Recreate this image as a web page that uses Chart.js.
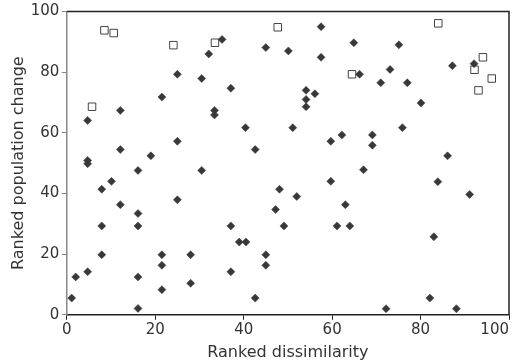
<!DOCTYPE html>
<html>
<head>
<meta charset="utf-8">
<script src="https://cdn.jsdelivr.net/npm/chart.js@4/dist/chart.umd.min.js"></script>
<style>
html,body{margin:0;padding:0;background:#fff;}
canvas{display:block;}
</style>
</head>
<body>
<canvas id="c" width="521" height="362"></canvas>
<script>
// Diamonds (filled): ranked dissimilarity
const diamondX = [1.1,2.0,4.7,4.7,4.7,4.7,7.9,7.9,7.9,10.1,12.1,12.1,12.1,16.1,16.1,16.1,16.1,16.1,19.0,21.5,21.5,21.5,21.5,25.0,25.0,25.0,28.0,28.0,30.5,30.5,32.1,33.4,33.4,35.1,37.1,37.1,37.1,39.0,40.5,40.4,42.6,42.6,45.0,45.0,45.0,47.2,48.1,49.1,50.1,51.1,52.0,54.1,54.1,54.1,56.1,57.5,57.5,59.7,59.7,61.1,62.2,63.0,64.0,64.9,66.2,67.1,69.1,69.1,71.0,72.2,73.1,75.1,75.9,77.0,80.1,82.1,83.0,83.9,86.1,87.2,88.1,91.1,92.1];
// Diamonds: ranked population change
const diamondY = [5.5,12.5,14.2,64.1,50.9,49.8,41.4,29.3,19.8,44.0,67.4,54.5,36.3,47.6,33.4,29.3,12.5,2.1,52.4,71.8,19.8,16.3,8.3,79.3,57.2,37.9,19.8,10.4,77.9,47.6,86.0,67.4,65.9,90.8,74.7,29.3,14.2,24.0,24.0,61.7,54.5,5.5,88.1,19.8,16.3,34.7,41.4,29.3,87.0,61.7,39.0,74.0,71.0,68.6,72.9,95.0,84.9,57.2,44.0,29.3,59.3,36.3,29.3,89.7,79.3,47.8,59.3,55.9,76.5,2.0,80.9,89.0,61.7,76.5,69.8,5.5,25.7,43.9,52.4,82.1,2.0,39.7,82.8];
// Open squares
const squareX = [5.7,8.5,10.6,24.1,33.5,47.7,64.5,84.0,92.2,93.1,94.1,96.1];
const squareY = [68.6,93.8,92.9,88.9,89.7,94.8,79.3,96.1,80.8,74.0,84.9,77.9];
const tickValues = [0,20,40,60,80,100];

const toPts = (xs, ys) => xs.map((x, i) => ({x: x, y: ys[i]}));

const frame = {
  id: 'frame',
  afterDraw(chart) {
    const a = chart.chartArea, ctx = chart.ctx;
    ctx.save();
    ctx.strokeStyle = '#222';
    ctx.lineWidth = 1.5;
    ctx.beginPath();
    ctx.moveTo(a.left, a.top);
    ctx.lineTo(a.right, a.top);
    ctx.lineTo(a.right, a.bottom);
    ctx.stroke();
    ctx.restore();
  }
};

const tickFont = {family: '"DejaVu Sans", Verdana, sans-serif', size: 15};
const titleFont = {family: '"DejaVu Sans", Verdana, sans-serif', size: 16};

new Chart(document.getElementById('c'), {
  type: 'scatter',
  data: {
    datasets: [
      {
        data: toPts(squareX, squareY),
        pointStyle: 'rect',
        pointRadius: 5.3,
        pointBackgroundColor: '#fff',
        pointBorderColor: '#444',
        pointBorderWidth: 1,
        order: 2
      },
      {
        data: toPts(diamondX, diamondY),
        pointStyle: 'rectRot',
        pointRadius: 4,
        pointBackgroundColor: '#383838',
        pointBorderColor: '#383838',
        pointBorderWidth: 0.5,
        order: 1
      }
    ]
  },
  options: {
    responsive: false,
    animation: false,
    events: [],
    layout: {padding: {top: 8, right: 12, left: 2, bottom: 0}},
    plugins: {legend: {display: false}, tooltip: {enabled: false}},
    scales: {
      x: {
        type: 'linear', min: 0, max: 100,
        afterBuildTicks: s => { s.ticks = tickValues.map(v => ({value: v})); },
        afterFit: s => { s.paddingRight = 0; },
        grid: {drawOnChartArea: false, drawTicks: true, tickLength: 5, color: '#222'},
        border: {color: '#222', width: 1.5},
        ticks: {
          color: '#333', font: tickFont, padding: 1, maxRotation: 0,
          callback: v => v === 100 ? '100\u2007\u2007\u2007' : String(v)
        },
        title: {display: true, text: 'Ranked dissimilarity', color: '#333', font: titleFont, padding: {top: 3, bottom: 0}}
      },
      y: {
        type: 'linear', min: 0, max: 100,
        afterBuildTicks: s => { s.ticks = tickValues.map(v => ({value: v})); },
        grid: {drawOnChartArea: false, drawTicks: true, tickLength: 5, color: '#888'},
        border: {color: '#888', width: 1.5},
        ticks: {color: '#333', font: tickFont, padding: 2.5},
        title: {display: true, text: 'Ranked population change', color: '#333', font: titleFont, padding: {top: 7, bottom: 0}}
      }
    }
  },
  plugins: [frame]
});
</script>
</body>
</html>
